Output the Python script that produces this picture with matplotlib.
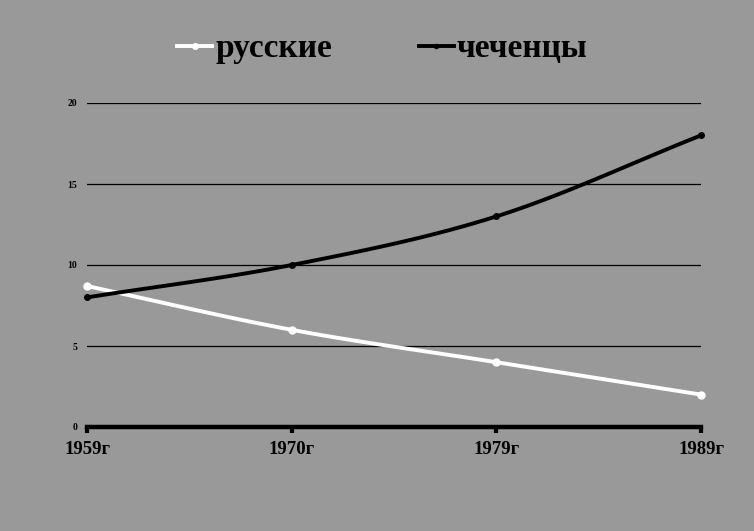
import numpy as np
import matplotlib
matplotlib.use("Agg")
import matplotlib.pyplot as plt
from matplotlib.lines import Line2D

years = ["1959г", "1970г", "1979г", "1989г"]
russians = [8.7, 6.0, 4.0, 2.0]
chechens = [8.0, 10.0, 13.0, 18.0]
yticks = [0, 5, 10, 15, 20]

BG = "#999999"
SERIF = ["Liberation Serif", "DejaVu Serif"]


def smooth(xs, ys, n=40):
    # Catmull-Rom curve through the data points (Excel-like smoothed line)
    xs = np.asarray(xs, float)
    ys = np.asarray(ys, float)
    px = np.concatenate([[2 * xs[0] - xs[1]], xs, [2 * xs[-1] - xs[-2]]])
    py = np.concatenate([[2 * ys[0] - ys[1]], ys, [2 * ys[-1] - ys[-2]]])
    outx, outy = [], []
    t = np.linspace(0, 1, n)
    for i in range(1, len(px) - 2):
        for arr, out in ((px, outx), (py, outy)):
            p0, p1, p2, p3 = arr[i - 1], arr[i], arr[i + 1], arr[i + 2]
            v = 0.5 * ((2 * p1) + (-p0 + p2) * t + (2 * p0 - 5 * p1 + 4 * p2 - p3) * t ** 2
                       + (-p0 + 3 * p1 - 3 * p2 + p3) * t ** 3)
            out.extend(v if i == len(px) - 3 else v[:-1])
    return np.array(outx), np.array(outy)


fig = plt.figure(figsize=(7.54, 5.31), dpi=100, facecolor=BG)
ax = fig.add_axes([87 / 754, 1 - 427 / 531, (701 - 87) / 754, (427 - 103) / 531], facecolor=BG)

x = np.arange(len(years))
for vals, col, ms in ((russians, "white", 5), (chechens, "black", 4)):
    sx, sy = smooth(x, vals)
    ax.plot(sx, sy, color=col, lw=2.8, solid_capstyle="round", zorder=3)
    ax.plot(x, vals, "o", color=col, ms=ms, zorder=4, clip_on=False)

ax.set_xlim(0, 3)
ax.set_ylim(0, 20)
ax.set_yticks(yticks)
ax.set_yticklabels([str(v) for v in yticks], fontsize=7, fontweight="bold", family=SERIF)
ax.set_xticks(x)
ax.set_xticklabels(years, fontsize=13.5, fontweight="bold", family=SERIF)
ax.tick_params(axis="y", length=0, pad=7)
ax.tick_params(axis="x", length=4, width=3, direction="out", color="black", pad=6)
ax.grid(axis="y", color="black", lw=0.9, zorder=1)
for s in ("top", "right", "left"):
    ax.spines[s].set_visible(False)
ax.spines["bottom"].set_linewidth(3.2)
ax.spines["bottom"].set_zorder(5)

handles = [
    Line2D([0], [0], color="white", lw=2.8, marker="o", ms=4),
    Line2D([0], [0], color="black", lw=2.8, marker="o", ms=3),
]
fig.legend(handles, ["русские", "чеченцы"], loc="center", bbox_to_anchor=(0.507, 0.908),
           ncol=2, frameon=False, prop={"family": SERIF, "weight": "bold", "size": 24},
           handlelength=1.05, handletextpad=0.08, columnspacing=2.6)

fig.savefig("out.png", dpi=100, facecolor=BG)
